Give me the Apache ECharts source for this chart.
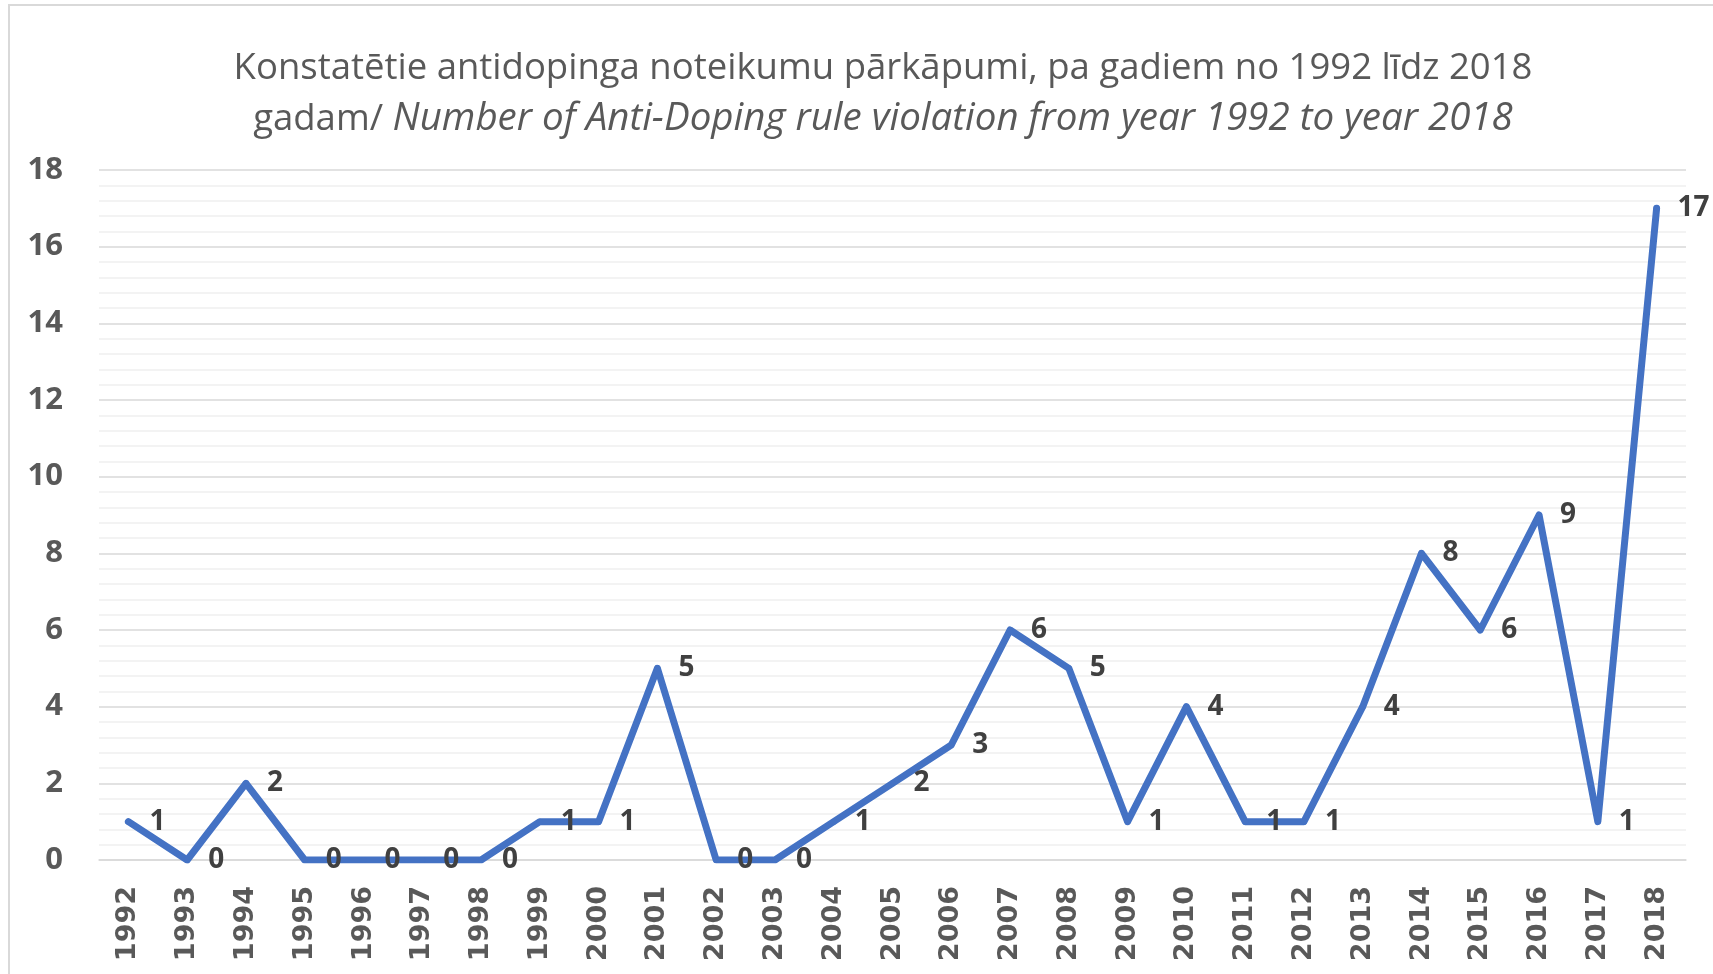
<!DOCTYPE html>
<html>
<head>
<meta charset="utf-8">
<script src="https://cdn.jsdelivr.net/npm/echarts@6/dist/echarts.min.js"></script>
<style>
html,body{margin:0;padding:0;background:#fff;}
#chart{width:1713px;height:974px;}
</style>
</head>
<body>
<div id="chart"></div>
<script>
const years = ['1992','1993','1994','1995','1996','1997','1998','1999','2000','2001','2002','2003','2004','2005','2006','2007','2008','2009','2010','2011','2012','2013','2014','2015','2016','2017','2018'];
const violations = [1,0,2,0,0,0,0,1,1,5,0,0,1,2,3,6,5,1,4,1,1,4,8,6,9,1,17];
const yTicks = [0,2,4,6,8,10,12,14,16,18];
const titleLine1 = 'Konstatētie antidopinga noteikumu pārkāpumi, pa gadiem no 1992 līdz 2018';
const titleLine2a = 'gadam/ ';
const titleLine2b = 'Number of Anti-Doping rule violation from year 1992 to year 2018';

const chart = echarts.init(document.getElementById('chart'));
chart.setOption({
  backgroundColor: '#fff',
  animation: false,
  graphic: [{
    type: 'rect',
    shape: {x: 9, y: 5, width: 1800, height: 1100},
    style: {fill: 'none', stroke: '#d9d9d9', lineWidth: 2},
    silent: true
  }],
  title: {
    text: '{a|' + titleLine1 + '}\n{a|' + titleLine2a + '}{b|' + titleLine2b + '}',
    left: 883,
    textAlign: 'center',
    padding: 0,
    top: 43,
    textStyle: {
      fontWeight: 'normal',
      rich: {
        a: {fontFamily: 'Open Sans', fontWeight: 'normal', fontSize: 36.5, color: '#595959', lineHeight: 51, align: 'center'},
        b: {fontFamily: 'Open Sans', fontWeight: 'normal', fontSize: 38.5, color: '#595959', fontStyle: 'italic', lineHeight: 51}
      }
    }
  },
  grid: {left: 99, right: 27, top: 170, bottom: 114, containLabel: false},
  xAxis: {
    type: 'category',
    data: years,
    boundaryGap: true,
    axisLine: {show: true, lineStyle: {color: '#d9d9d9', width: 1.5}},
    axisTick: {show: false},
    axisLabel: {
      rotate: 90,
      margin: 26,
      interval: 0,
      fontFamily: 'DejaVu Sans',
      fontWeight: 'bold',
      fontSize: 27,
      color: '#595959'
    }
  },
  yAxis: {
    type: 'value',
    min: yTicks[0],
    max: yTicks[yTicks.length - 1],
    interval: 2,
    axisLine: {show: false},
    axisTick: {show: false},
    axisLabel: {
      margin: 36,
      fontFamily: 'Open Sans',
      fontWeight: 'bold',
      fontSize: 31,
      color: '#595959'
    },
    splitLine: {show: true, lineStyle: {color: '#d9d9d9', width: 1.5}},
    minorTick: {show: false, splitNumber: 5},
    minorSplitLine: {show: true, lineStyle: {color: '#f0f0f0', width: 1.5}}
  },
  series: [{
    type: 'line',
    data: violations,
    symbol: 'circle',
    symbolSize: 6,
    showSymbol: true,
    lineStyle: {color: '#4472C4', width: 7, cap: 'round', join: 'round'},
    itemStyle: {color: '#4472C4', borderWidth: 0},
    label: {
      show: true,
      position: 'right',
      distance: 18,
      fontFamily: 'Open Sans',
      fontWeight: 'bold',
      fontSize: 28,
      color: '#404040'
    }
  }]
});
</script>
</body>
</html>
